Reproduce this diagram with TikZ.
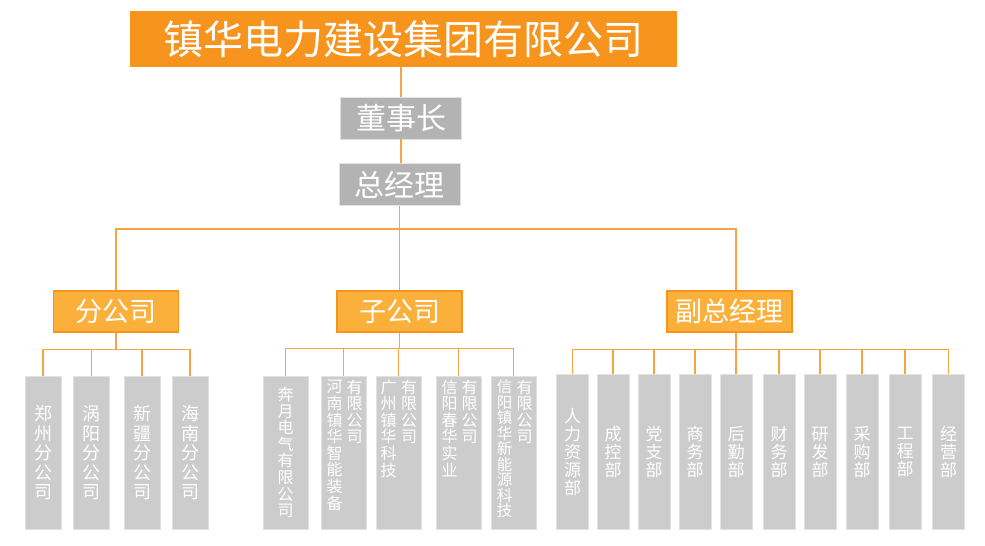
\documentclass[tikz,border=0pt]{standalone}
\usepackage{fontspec}
\setmainfont{Noto Sans CJK SC}
\usepackage{tikz}
\XeTeXlinebreaklocale "zh"
\XeTeXlinebreakskip=0pt plus 1pt
\definecolor{zhorange}{HTML}{F7941D}
\definecolor{zhlight}{HTML}{FBB03B}
\definecolor{zhline}{HTML}{F8A445}
\definecolor{zhgray}{HTML}{B3B3B3}
\definecolor{zhunit}{HTML}{CCCCCC}
\definecolor{zhedge}{HTML}{E2E2E2}
\tikzset{my_chart/.style={x=1pt,y=-1pt}}
\tikzset{my_title/.style={fill=zhorange, text=white, minimum width=547pt, minimum height=56pt, inner sep=0pt, font=\fontsize{40}{44}\selectfont}}
\tikzset{my_head/.style={fill=zhgray, draw=zhedge, text=white, minimum width=121pt, minimum height=42pt, inner sep=0pt, font=\fontsize{30}{32}\selectfont}}
\tikzset{my_group/.style={fill=zhlight, draw=zhorange, line width=1.5pt, text=white, minimum width=125pt, minimum height=41pt, inner sep=0pt, font=\fontsize{27}{30}\selectfont}}
\tikzset{my_unit/.style={fill=zhunit, draw=zhedge, line width=1pt, text=white, minimum height=153pt, inner sep=0pt, text width=20pt, align=center}}
\tikzset{my_column/.style={text=white, inner sep=0pt, text width=20pt, align=center, anchor=north, font=\fontsize{16}{16.6}\selectfont}}
\tikzset{my_link/.style={draw=zhline, line width=1.1pt}}

\begin{document}
\begin{tikzpicture}[my_chart]
    \tikzstyle{unit_a}=[my_unit, minimum width=36pt, font=\fontsize{18}{19.5}\selectfont]
    \tikzstyle{unit_b}=[my_unit, minimum width=45pt, font=\fontsize{16}{16.6}\selectfont]
    \tikzstyle{unit_c}=[my_unit, minimum width=32pt, minimum height=155pt, font=\fontsize{17}{18}\selectfont]
    \useasboundingbox (0,0) rectangle (985,546);

    \node[my_title] (0) at (403.5,39) {镇华电力建设集团有限公司};
    \node[my_head] (1) at (401,118) {董事长};
    \node[my_head] (2) at (399.5,184.5) {总经理};
    \coordinate (bus) at (399.5,229);

    \node[my_group] (a) at (116,311.5) {分公司};
    \node[my_group] (b) at (399.5,311.5) {子公司};
    \node[my_group] (c) at (729.5,311.5) {副总经理};

    % 分公司
    \node[unit_a] (a1) at (43,453) {郑州分公司};
    \node[unit_a] (a2) at (91.5,453) {涡阳分公司};
    \node[unit_a] (a3) at (142,453) {新疆分公司};
    \node[unit_a] (a4) at (190,453) {海南分公司};

    % 子公司
    \node[unit_b] (b1) at (285.5,452.5) {奔月电气有限公司};
    \node[unit_b] (b2) at (343.5,452.5) {};
    \node[unit_b] (b3) at (398.5,452.5) {};
    \node[unit_b] (b4) at (458.5,452.5) {};
    \node[unit_b] (b5) at (513.5,452.5) {};
    \node[my_column] at ([xshift=-9pt,yshift=-4pt]b2.north) {河南镇华智能装备};
    \node[my_column] at ([xshift=11pt,yshift=-4pt]b2.north) {有限公司};
    \node[my_column] at ([xshift=-10pt,yshift=-4pt]b3.north) {广州镇华科技};
    \node[my_column] at ([xshift=10.5pt,yshift=-4pt]b3.north) {有限公司};
    \node[my_column] at ([xshift=-9pt,yshift=-4pt]b4.north) {信阳春华实业};
    \node[my_column] at ([xshift=11pt,yshift=-4pt]b4.north) {有限公司};
    \node[my_column, font=\fontsize{15.5}{15.5}\selectfont] at ([xshift=-9pt,yshift=-4pt]b5.north) {信阳镇华新能源科技};
    \node[my_column] at ([xshift=11pt,yshift=-4pt]b5.north) {有限公司};

    % 副总经理
    \node[unit_c] (c1) at (572.5,452) {人力资源部};
    \node[unit_c] (c2) at (613,452) {成控部};
    \node[unit_c] (c3) at (654,452) {党支部};
    \node[unit_c] (c4) at (695,452) {商务部};
    \node[unit_c] (c5) at (736,452) {后勤部};
    \node[unit_c] (c6) at (779,452) {财务部};
    \node[unit_c] (c7) at (820,452) {研发部};
    \node[unit_c] (c8) at (862,452) {采购部};
    \node[unit_c] (c9) at (905,452) {工程部};
    \node[unit_c] (c10) at (948.5,452) {经营部};

    \draw[my_link]
        (0.south -| 1.north) -- (1.north)
        (1.south) -- (1.south |- 2.north)
        (2.south) -- (bus)
        (bus) -| (a.north)
        (bus) -- (b.north)
        (bus) -| ([xshift=6.5pt]c.north)
    ;
    \draw[my_link]
        (a.south) -- ++(0,17) -| (a1.north)
        (a.south) -- ++(0,17) -| (a2.north)
        (a.south) -- ++(0,17) -| (a3.north)
        (a.south) -- ++(0,17) -| (a4.north)
        (b.south) -- ++(0,16) -| (b1.north)
        (b.south) -- ++(0,16) -| (b2.north)
        (b.south) -- ++(0,16) -| (b3.north)
        (b.south) -- ++(0,16) -| (b4.north)
        (b.south) -- ++(0,16) -| (b5.north)
        ([xshift=6.5pt]c.south) -- ++(0,17) -| (c1.north)
        ([xshift=6.5pt]c.south) -- ++(0,17) -| (c2.north)
        ([xshift=6.5pt]c.south) -- ++(0,17) -| (c3.north)
        ([xshift=6.5pt]c.south) -- ++(0,17) -| (c4.north)
        ([xshift=6.5pt]c.south) -- ++(0,17) -| (c5.north)
        ([xshift=6.5pt]c.south) -- ++(0,17) -| (c6.north)
        ([xshift=6.5pt]c.south) -- ++(0,17) -| (c7.north)
        ([xshift=6.5pt]c.south) -- ++(0,17) -| (c8.north)
        ([xshift=6.5pt]c.south) -- ++(0,17) -| (c9.north)
        ([xshift=6.5pt]c.south) -- ++(0,17) -| (c10.north)
    ;
\end{tikzpicture}
\end{document}
